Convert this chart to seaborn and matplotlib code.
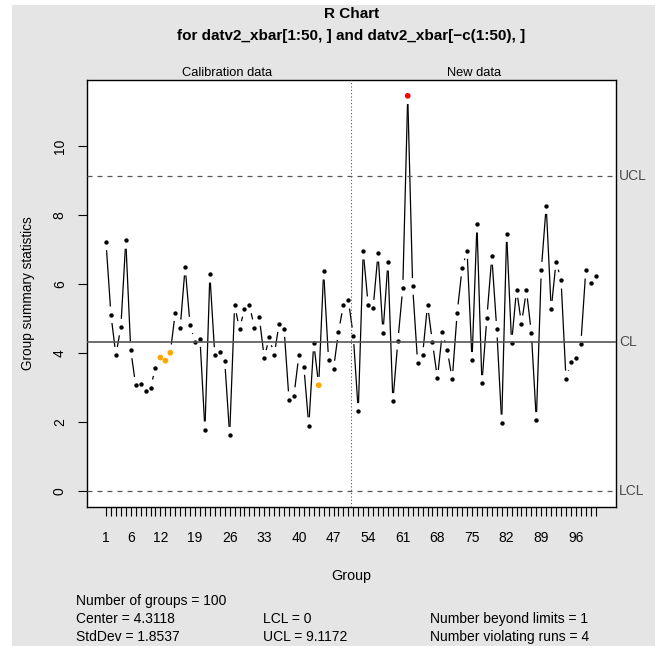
import numpy as np
import pandas as pd
import matplotlib
matplotlib.use("Agg")
import matplotlib.pyplot as plt
import matplotlib.transforms as mtransforms
from matplotlib.collections import LineCollection
from matplotlib.patches import Rectangle
import seaborn as sns

# ---------------- data ----------------
groups = list(range(1, 101))
r_values = [7.22, 5.11, 3.94, 4.75, 7.26, 4.09, 3.07, 3.10, 2.89, 3.00,
            3.57, 3.87, 3.78, 4.01, 5.17, 4.73, 6.49, 4.81, 4.32, 4.42,
            1.78, 6.28, 3.93, 4.04, 3.78, 1.62, 5.39, 4.69, 5.29, 5.39,
            4.74, 5.03, 3.85, 4.46, 3.94, 4.85, 4.71, 2.65, 2.77, 3.94,
            3.61, 1.90, 4.29, 3.07, 6.37, 3.79, 3.54, 4.62, 5.39, 5.53,
            4.50, 2.31, 6.95, 5.40, 5.30, 6.89, 4.59, 6.63, 2.60, 4.34,
            5.88, 11.45, 5.93, 3.72, 3.93, 5.40, 4.31, 3.27, 4.60, 4.08,
            3.24, 5.17, 6.46, 6.97, 3.79, 7.73, 3.12, 5.02, 6.80, 4.69,
            1.98, 7.46, 4.29, 5.84, 4.85, 5.82, 4.58, 2.05, 6.40, 8.27,
            5.27, 6.65, 6.11, 3.25, 3.73, 3.87, 4.26, 6.40, 6.02, 6.24]
beyond_limits = [62]
violating_runs = [12, 13, 14, 44]
n_calibration = 50
center = 4.3118
std_dev = 1.8537
lcl = 0.0
ucl = 9.1172
x_tick_labels = [1, 6, 12, 19, 26, 33, 40, 47, 54, 61, 68, 75, 82, 89, 96]
y_ticks = [0, 2, 4, 6, 8, 10]
title_main = "R Chart"
title_sub = "for datv2_xbar[1:50, ] and datv2_xbar[\u2212c(1:50), ]"
stats_lines = [
    ["Number of groups = 100", "", ""],
    ["Center = 4.3118", "LCL = 0", "Number beyond limits = 1"],
    ["StdDev = 1.8537", "UCL = 9.1172", "Number violating runs = 4"],
]

status = ["out" if g in beyond_limits else ("run" if g in violating_runs else "ok")
          for g in groups]
df = pd.DataFrame({"group": groups, "value": r_values, "status": status})

# ---------------- figure ----------------
plt.rcParams["font.family"] = ["Liberation Sans", "DejaVu Sans"]
W, H = 665, 646
fig = plt.figure(figsize=(W / 100, H / 100), dpi=100)
fig.patch.set_facecolor("white")
fig.patches.append(Rectangle((12 / W, 0), (655 - 12) / W, (646 - 5) / H,
                             transform=fig.transFigure, facecolor="#e5e5e5",
                             edgecolor="none", zorder=-10))

left, right, top, bottom = 87, 616, 80, 507
ax = fig.add_axes([left / W, 1 - bottom / H, (right - left) / W, (bottom - top) / H])
ax.set_facecolor("white")

rng = max(r_values) - lcl
ax.set_ylim(lcl - 0.04 * rng, max(r_values) + 0.04 * rng)
ax.set_xlim(1 - 0.0388 * 99, 100 + 0.0415 * 99)

# connecting lines with gaps around points (R type = "b")
pts = ax.transData.transform(np.column_stack([df["group"], df["value"]]))
gap = 8.3
segs = []
for p1, p2 in zip(pts[:-1], pts[1:]):
    d = p2 - p1
    L = np.hypot(*d)
    if L > 2 * gap:
        u = d / L
        a = ax.transData.inverted().transform(p1 + u * gap)
        b = ax.transData.inverted().transform(p2 - u * gap)
        segs.append([a, b])
ax.add_collection(LineCollection(segs, colors="black", linewidths=0.9, zorder=2))

sns.scatterplot(data=df[df.status == "ok"], x="group", y="value", color="black",
                s=10, linewidth=0, ax=ax, zorder=3, legend=False)
sns.scatterplot(data=df[df.status != "ok"], x="group", y="value", hue="status",
                palette={"run": "#FFA500", "out": "#FF0000"}, s=17, linewidth=0,
                ax=ax, zorder=3, legend=False)

# control lines
ax.axhline(center, color="#555555", lw=1.2, zorder=4)
ax.axhline(ucl, color="#555555", lw=0.9, ls=(0, (4, 4)), zorder=4)
ax.axhline(lcl, color="#555555", lw=0.9, ls=(0, (4, 4)), zorder=4)
ax.axvline(n_calibration + 0.5, color="#555555", lw=0.8, ls=(0, (1, 2)), zorder=4)

trans = mtransforms.blended_transform_factory(ax.transAxes, ax.transData)
for lab, val in [("UCL", ucl), ("CL", center), ("LCL", lcl)]:
    ax.text(1.006, val, lab, transform=trans, ha="left", va="center",
            fontsize=10, color="#4d4d4d", clip_on=False)

# section labels
sec_trans = mtransforms.blended_transform_factory(ax.transData, ax.transAxes)
ax.text(np.mean(groups[:n_calibration]), 1.003, "Calibration data",
        transform=sec_trans, ha="center", va="bottom", fontsize=9.3)
ax.text(np.mean(groups[n_calibration:]), 1.003, "New data",
        transform=sec_trans, ha="center", va="bottom", fontsize=9.3)

# axes styling
for sp in ax.spines.values():
    sp.set_color("black")
    sp.set_linewidth(1.0)
ax.set_xticks(groups)
ax.set_xticklabels([str(g) if g in x_tick_labels else "" for g in groups])
ax.set_yticks(y_ticks)
ax.set_yticklabels([str(v) for v in y_ticks], rotation=90, va="center")
ax.tick_params(axis="x", length=6.5, width=0.8, pad=11, labelsize=10)
ax.tick_params(axis="y", length=6.5, width=0.8, pad=8, labelsize=10)
ax.set_xlabel("Group", fontsize=10.3, labelpad=17)
ax.set_ylabel("Group summary statistics", fontsize=9.8, labelpad=13)
ax.grid(False)

# titles
fig.text((left + right) / 2 / W, 1 - 14 / H, title_main, ha="center", va="center",
         fontsize=11, fontweight="bold")
fig.text((left + right) / 2 / W, 1 - 36 / H, title_sub, ha="center", va="center",
         fontsize=11, fontweight="bold")

# statistics block
col_x = [76, 263, 430]
row_y = [601, 619, 637]
for r, row in enumerate(stats_lines):
    for c, txt in enumerate(row):
        if txt:
            fig.text(col_x[c] / W, 1 - row_y[r] / H, txt, ha="left", va="center",
                     fontsize=10)

fig.savefig("out.png", dpi=100, facecolor=fig.get_facecolor())
